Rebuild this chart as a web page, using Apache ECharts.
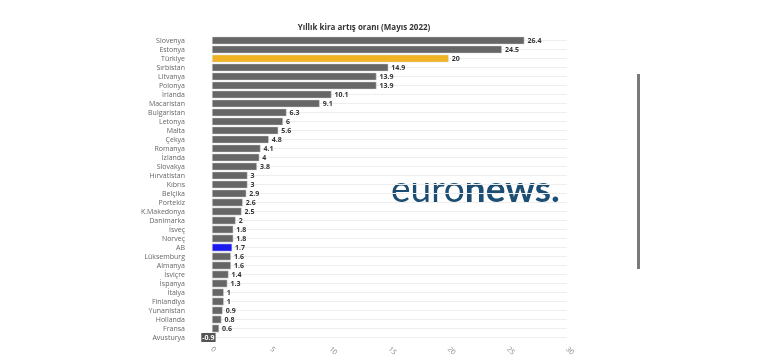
<!DOCTYPE html>
<html><head><meta charset="utf-8">
<script src="https://cdn.jsdelivr.net/npm/echarts@6/dist/echarts.min.js"></script>
<style>html,body{margin:0;padding:0;background:#fff}#c{width:765px;height:362px}</style>
</head><body><div id="c"></div>
<script>
const countries = ['Slovenya','Estonya','Türkiye','Sırbistan','Litvanya','Polonya','İrlanda','Macaristan','Bulgaristan','Letonya','Malta','Çekya','Romanya','İzlanda','Slovakya','Hırvatistan','Kıbrıs','Belçika','Portekiz','K.Makedonya','Danimarka','İsveç','Norveç','AB','Lüksemburg','Almanya','İsviçre','İspanya','İtalya','Finlandiya','Yunanistan','Hollanda','Fransa','Avusturya'];
const values = [26.4,24.5,20,14.9,13.9,13.9,10.1,9.1,6.3,6,5.6,4.8,4.1,4,3.8,3,3,2.9,2.6,2.5,2,1.8,1.8,1.7,1.6,1.6,1.4,1.3,1,1,0.9,0.8,0.6,-0.9];
const xTicks = [0,5,10,15,20,25,30];
const highlight = {'Türkiye':'#f0b323','AB':'#1a1aee'};
const font = 'Open Sans';
const chart = echarts.init(document.getElementById('c'));
chart.setOption({
  animation:false,
  title:{text:'Yıllık kira artış oranı (Mayıs 2022)',left:359,top:19,textAlign:'center',
    textStyle:{fontSize:8,fontWeight:'bold',color:'#333',fontFamily:font}},
  grid:{left:212,right:198,top:36,height:306},
  xAxis:{type:'value',min:xTicks[0],max:xTicks[xTicks.length-1],interval:5,
    axisLine:{show:false},axisTick:{show:false},splitLine:{show:false},
    axisLabel:{rotate:-45,margin:6,fontSize:7,color:'#888',fontFamily:font}},
  yAxis:{type:'category',data:countries,inverse:true,
    axisLine:{show:false},axisTick:{show:false},
    splitLine:{show:true,alignWithLabel:true,lineStyle:{color:'#eeeeee',width:1}},
    axisLabel:{interval:0,fontSize:7,color:'#666',margin:27,fontFamily:font}},
  series:[{type:'bar',clip:false,barCategoryGap:'14%',
    data:values.map((v,i)=>{
      const c = highlight[countries[i]] || '#666666';
      const d = {value:v,itemStyle:{color:c,borderColor:'#e0e0e0',borderWidth:0.5}};
      if(v<0){d.label={position:'insideLeft',distance:0,color:'#fff',backgroundColor:'#555',padding:[1,1]};}
      return d;
    }),
    label:{show:true,position:'right',distance:3,fontSize:7,fontWeight:'bold',color:'#333',fontFamily:font}
  }],
  graphic:[
    {type:'text',left:391,top:172,style:{text:'{a|euro}{b|news.}',
      rich:{a:{fontSize:37,fontWeight:'normal',fill:'#1c4e73',fontFamily:'Lato'},
            b:{fontSize:37,fontWeight:'bold',fill:'#1c4e73',fontFamily:'Lato'}}}},
    {type:'rect',shape:{x:637,y:74,width:3,height:195},style:{fill:'#7a7a7a'}}
  ]
});
</script></body></html>
